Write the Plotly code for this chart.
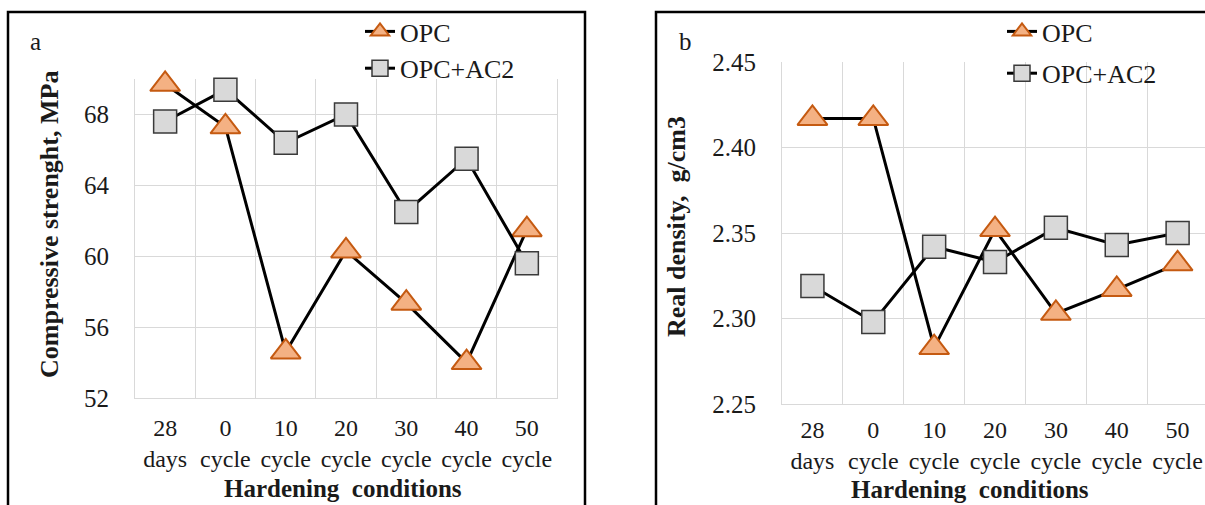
import plotly.graph_objects as go

W, H = 1205, 505

categories = ["28<br>days", "0<br>cycle", "10<br>cycle", "20<br>cycle",
              "30<br>cycle", "40<br>cycle", "50<br>cycle"]
strength_opc = [69.7, 67.3, 54.6, 60.3, 57.35, 54.0, 61.5]
strength_ac2 = [67.6, 69.4, 66.4, 68.0, 62.5, 65.5, 59.6]
density_opc = [2.417, 2.417, 2.283, 2.352, 2.303, 2.317, 2.332]
density_ac2 = [2.319, 2.298, 2.342, 2.333, 2.353, 2.343, 2.350]
strength_ticks = [52, 56, 60, 64, 68]
density_ticks = [2.25, 2.30, 2.35, 2.40, 2.45]
density_ticktext = ["2.25", "2.30", "2.35", "2.40", "2.45"]

FONT = "Liberation Serif, Times New Roman, serif"
TXT = "#1a1a1a"
GRID = "#d9d9d9"

def px(x):
    return x / W

def py(y):
    return 1 - y / H

opc_marker = dict(symbol="triangle-up", size=26, color="#F4B183",
                  line=dict(color="#C55A11", width=2))
ac2_marker = dict(symbol="square", size=23, color="#D9D9D9",
                  line=dict(color="#3a3a3a", width=1.5))
line_style = dict(color="black", width=3)

fig = go.Figure()
fig.add_trace(go.Scatter(x=categories, y=strength_opc, name="OPC", mode="lines+markers",
                         line=line_style, marker=opc_marker, xaxis="x", yaxis="y",
                         legend="legend", legendgroup="a1", cliponaxis=False))
fig.add_trace(go.Scatter(x=categories, y=strength_ac2, name="OPC+AC2", mode="lines+markers",
                         line=line_style, marker=ac2_marker, xaxis="x", yaxis="y",
                         legend="legend", legendgroup="a2", cliponaxis=False))
fig.add_trace(go.Scatter(x=categories, y=density_opc, name="OPC", mode="lines+markers",
                         line=line_style, marker=opc_marker, xaxis="x2", yaxis="y2",
                         legend="legend2", legendgroup="b1", cliponaxis=False))
fig.add_trace(go.Scatter(x=categories, y=density_ac2, name="OPC+AC2", mode="lines+markers",
                         line=line_style, marker=ac2_marker, xaxis="x2", yaxis="y2",
                         legend="legend2", legendgroup="b2", cliponaxis=False))

xcommon = dict(type="category", tickson="boundaries", showgrid=True, gridcolor=GRID,
               gridwidth=1, showline=True, linecolor=GRID, linewidth=1, ticks="",
               tickangle=0, tickfont=dict(family=FONT, size=24, color=TXT),
               zeroline=False, automargin=False)
ycommon = dict(showgrid=True, gridcolor=GRID, gridwidth=1, showline=True, linecolor=GRID,
               linewidth=1, mirror=True, ticks="", ticklabelstandoff=20,
               tickfont=dict(family=FONT, size=25, color=TXT), zeroline=False,
               automargin=False)

def ann(text, x, y, angle=0, size=26):
    return dict(text=text, x=px(x), y=py(y), xref="paper", yref="paper", showarrow=False,
                xanchor="center", yanchor="middle", textangle=angle,
                font=dict(family=FONT, size=size, color=TXT))

fig.update_layout(
    template="none",
    width=W, height=H, margin=dict(l=0, r=0, t=0, b=0, autoexpand=False),
    paper_bgcolor="white", plot_bgcolor="white",
    font=dict(family=FONT, size=25, color=TXT),
    xaxis=dict(domain=[px(135), px(557)], range=[-0.5, 6.5], anchor="y",
               ticklabelstandoff=8, **xcommon),
    yaxis=dict(domain=[py(398), py(79)], range=[52, 70], tickvals=strength_ticks,
               anchor="x", **ycommon),
    xaxis2=dict(domain=[px(782), 1.0], range=[-0.5, 6.45], anchor="y2",
                ticklabelstandoff=4, **xcommon),
    yaxis2=dict(domain=[py(404), py(62)], range=[2.25, 2.45], tickvals=density_ticks,
                ticktext=density_ticktext, anchor="x2", **ycommon),
    legend=dict(x=px(360), y=py(8), xanchor="left", yanchor="top",
                font=dict(family=FONT, size=26, color=TXT), bgcolor="rgba(0,0,0,0)",
                tracegroupgap=0),
    legend2=dict(x=px(1002), y=py(8), xanchor="left", yanchor="top",
                 font=dict(family=FONT, size=26, color=TXT), bgcolor="rgba(0,0,0,0)",
                 tracegroupgap=5),
    showlegend=True,
    shapes=[
        dict(type="rect", xref="paper", yref="paper", x0=px(8), x1=px(585),
             y0=py(515), y1=py(12), line=dict(color="black", width=2.5)),
        dict(type="rect", xref="paper", yref="paper", x0=px(656), x1=px(1215),
             y0=py(515), y1=py(12), line=dict(color="black", width=2.5)),
    ],
    annotations=[
        ann("a", 35, 42, size=25),
        ann("b", 685, 42, size=25),
        ann("<b>Compressive strenght, MPa</b>", 50, 225, -90),
        ann("<b>Real density,  g/cm3</b>", 677, 227, -90),
        ann("<b>Hardening  conditions</b>", 343, 488, size=25),
        ann("<b>Hardening  conditions</b>", 970, 489, size=25),
    ],
)

fig.write_html("out.html")
